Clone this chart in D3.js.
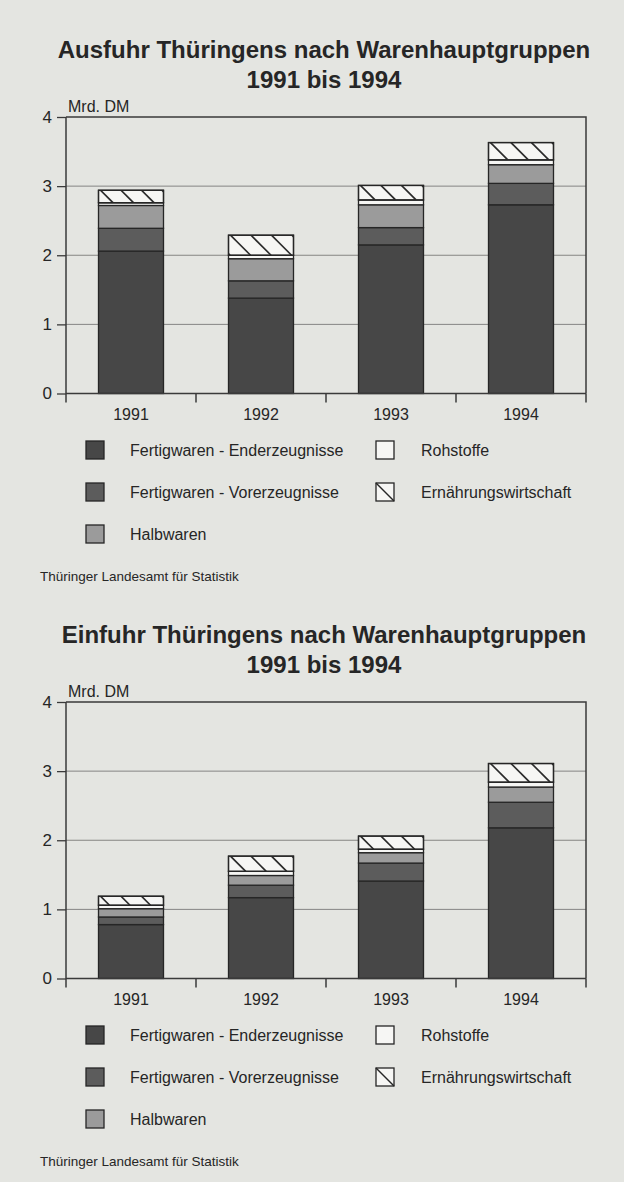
<!DOCTYPE html>
<html>
<head>
<meta charset="utf-8">
<script src="https://cdn.jsdelivr.net/npm/d3@7"></script>
<style>
  body { margin: 0; background: #e4e5e1; }
  svg { display: block; font-family: "Liberation Sans", Arial, sans-serif; }
</style>
</head>
<body>
<svg id="page"></svg>
<script>
// Kategorien (Jahre) und Warengruppen
const years = ["1991", "1992", "1993", "1994"];
const groups = [
    "Fertigwaren - Enderzeugnisse",
    "Fertigwaren - Vorerzeugnisse",
    "Halbwaren",
    "Rohstoffe",
    "Ernährungswirtschaft"
];
const yTicks = [0, 1, 2, 3, 4];

// Ausfuhr, Mrd. DM
const ausEnder = [2.06, 1.38, 2.15, 2.73];
const ausVor   = [0.33, 0.25, 0.25, 0.31];
const ausHalb  = [0.33, 0.32, 0.33, 0.27];
const ausRoh   = [0.04, 0.05, 0.07, 0.07];
const ausErn   = [0.18, 0.29, 0.21, 0.25];

// Einfuhr, Mrd. DM
const einEnder = [0.78, 1.17, 1.41, 2.18];
const einVor   = [0.11, 0.18, 0.26, 0.37];
const einHalb  = [0.12, 0.14, 0.15, 0.22];
const einRoh   = [0.05, 0.06, 0.05, 0.07];
const einErn   = [0.13, 0.22, 0.19, 0.27];

const W = 624, H = 1182;
const colors = ["#474747", "#5c5c5c", "#9b9b9b", "#f6f6f4", "#f6f6f4"];
const ink = "#262626";

const page = d3.select("#page").attr("width", W).attr("height", H);
page.append("rect").attr("width", W).attr("height", H).attr("fill", "#e4e5e1");

function drawChart(top, titleText, cols, idx) {
    const g = page.append("g").attr("transform", `translate(0,${top})`);
    const frame = { left: 66, right: 586, top: 117, bottom: 393.5 };

    const table = years.map((y, i) => {
        const row = { year: y };
        groups.forEach((k, j) => row[k] = cols[j][i]);
        return row;
    });
    const stacked = d3.stack().keys(groups)(table);

    const x = d3.scaleBand().domain(years)
        .range([frame.left, frame.right])
        .paddingInner(0.5).paddingOuter(0.25);
    const y = d3.scaleLinear().domain([0, 4]).range([frame.bottom, frame.top]);

    // Titel
    g.append("text").attr("x", 324).attr("y", 58)
        .attr("text-anchor", "middle").attr("font-size", 24).attr("font-weight", "bold")
        .attr("fill", ink).text(titleText);
    g.append("text").attr("x", 324).attr("y", 88)
        .attr("text-anchor", "middle").attr("font-size", 24).attr("font-weight", "bold")
        .attr("fill", ink).text("1991 bis 1994");
    g.append("text").attr("x", 68).attr("y", 112)
        .attr("font-size", 16).attr("fill", ink).text("Mrd. DM");

    // Gitterlinien
    g.append("g").selectAll("line")
        .data(yTicks.filter(d => d > 0 && d < 4))
        .join("line")
        .attr("x1", frame.left).attr("x2", frame.right)
        .attr("y1", d => y(d)).attr("y2", d => y(d))
        .attr("stroke", "#858583").attr("stroke-width", 1);

    // Rahmen oben und rechts
    g.append("path")
        .attr("d", `M${frame.left},${y(4)}H${frame.right}V${y(0)}`)
        .attr("fill", "none").attr("stroke", "#3a3a3a").attr("stroke-width", 1.5);

    // Balken
    const layers = g.append("g").selectAll("g")
        .data(stacked)
        .join("g")
        .attr("fill", (d, i) => colors[i]);

    layers.selectAll("rect")
        .data(d => d)
        .join("rect")
        .attr("x", d => x(d.data.year))
        .attr("width", x.bandwidth())
        .attr("y", d => y(d[1]))
        .attr("height", d => y(d[0]) - y(d[1]))
        .attr("stroke", "#262626")
        .attr("stroke-width", 1.3);

    // Schraffur Ernährungswirtschaft
    const ern = stacked[4];
    ern.forEach((d, i) => {
        const bx = x(d.data.year), bw = x.bandwidth();
        const y0 = y(d[1]), y1 = y(d[0]), h = y1 - y0;
        const cid = `clip-${idx}-${i}`;
        g.append("clipPath").attr("id", cid)
            .append("rect").attr("x", bx).attr("y", y0).attr("width", bw).attr("height", h);
        const offs = d3.range(-2, 5).map(k => bx + 2 + k * 20.5);
        g.append("g").attr("clip-path", `url(#${cid})`)
            .selectAll("line").data(offs).join("line")
            .attr("x1", d => d).attr("y1", y0)
            .attr("x2", d => d + h).attr("y2", y1)
            .attr("stroke", "#2a2a2a").attr("stroke-width", 1.7);
        g.append("rect").attr("x", bx).attr("y", y0).attr("width", bw).attr("height", h)
            .attr("fill", "none").attr("stroke", "#262626").attr("stroke-width", 1.3);
    });

    // Y-Achse
    const yAxis = d3.axisLeft(y).tickValues(yTicks).tickSize(9).tickFormat(d3.format("d"));
    const ya = g.append("g").attr("transform", `translate(${frame.left},0)`).call(yAxis);
    ya.select(".domain").remove();
    ya.selectAll("line").attr("stroke", "#3a3a3a").attr("stroke-width", 1.3);
    ya.selectAll("text").attr("font-size", 17).attr("fill", ink)
        .attr("font-family", "Liberation Sans, Arial, sans-serif").attr("dx", -2);
    g.append("line").attr("x1", frame.left).attr("x2", frame.left)
        .attr("y1", y(4)).attr("y2", y(0) + 9)
        .attr("stroke", "#3a3a3a").attr("stroke-width", 1.5);

    // X-Achse
    const xAxis = d3.axisBottom(x).tickSize(0).tickPadding(15);
    const xa = g.append("g").attr("transform", `translate(0,${y(0)})`).call(xAxis);
    xa.select(".domain").remove();
    xa.selectAll("text").attr("font-size", 16).attr("fill", ink)
        .attr("font-family", "Liberation Sans, Arial, sans-serif");
    g.append("line").attr("x1", frame.left).attr("x2", frame.right)
        .attr("y1", y(0)).attr("y2", y(0))
        .attr("stroke", "#3a3a3a").attr("stroke-width", 1.5);
    const bounds = years.map(d => x(d) + x.bandwidth() + x.step() * 0.25);
    g.append("g").selectAll("line").data(bounds).join("line")
        .attr("x1", d => d).attr("x2", d => d)
        .attr("y1", y(0)).attr("y2", y(0) + 9)
        .attr("stroke", "#3a3a3a").attr("stroke-width", 1.5);

    // Legende
    const legendPos = [
        { col: 0, row: 0 }, { col: 0, row: 1 }, { col: 0, row: 2 },
        { col: 1, row: 0 }, { col: 1, row: 1 }
    ];
    groups.forEach((name, i) => {
        const p = legendPos[i];
        const lx = p.col === 0 ? 86 : 376;
        const ly = 450 + p.row * 42;
        g.append("rect").attr("x", lx).attr("y", ly - 9).attr("width", 18).attr("height", 18)
            .attr("fill", colors[i]).attr("stroke", "#262626").attr("stroke-width", 1.3);
        if (i === 4) {
            g.append("line").attr("x1", lx).attr("y1", ly - 9).attr("x2", lx + 18).attr("y2", ly + 9)
                .attr("stroke", "#262626").attr("stroke-width", 1.5);
        }
        g.append("text").attr("x", p.col === 0 ? 130 : 421).attr("y", ly + 6)
            .attr("font-size", 16).attr("fill", ink).text(name);
    });

    // Quelle
    g.append("text").attr("x", 40).attr("y", 581)
        .attr("font-size", 13.5).attr("fill", ink).text("Thüringer Landesamt für Statistik");
}

drawChart(0, "Ausfuhr Thüringens nach Warenhauptgruppen",
    [ausEnder, ausVor, ausHalb, ausRoh, ausErn], 0);
drawChart(585, "Einfuhr Thüringens nach Warenhauptgruppen",
    [einEnder, einVor, einHalb, einRoh, einErn], 1);
</script>
</body>
</html>
